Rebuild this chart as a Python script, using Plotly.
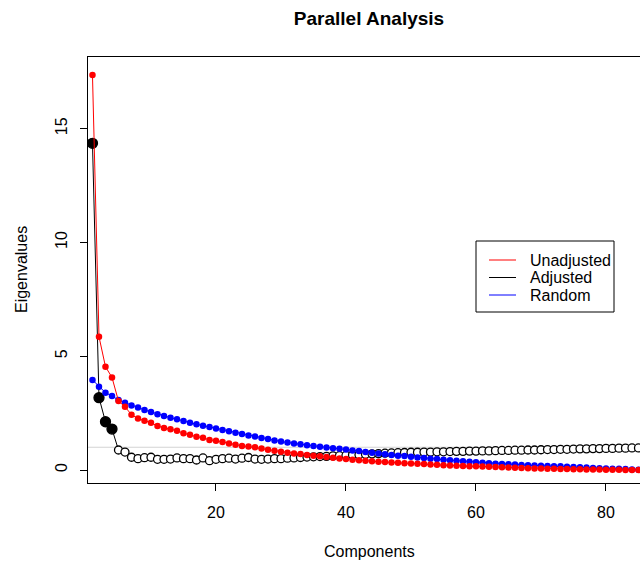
import plotly.graph_objects as go

components = list(range(1, 86))

unadjusted = [
    17.36, 5.86, 4.54, 4.07, 3.03, 2.78, 2.43, 2.26, 2.17, 2.08,
    1.93, 1.85, 1.79, 1.73, 1.61, 1.55, 1.46, 1.42, 1.32, 1.29,
    1.23, 1.17, 1.11, 1.06, 1.03, 1.00, 0.94, 0.89, 0.85, 0.80,
    0.76, 0.73, 0.70, 0.66, 0.63, 0.60, 0.57, 0.54, 0.51, 0.48,
    0.45, 0.43, 0.41, 0.38, 0.36, 0.35, 0.33, 0.32, 0.30, 0.29,
    0.27, 0.26, 0.24, 0.23, 0.21, 0.20, 0.19, 0.18, 0.17, 0.16,
    0.15, 0.14, 0.13, 0.12, 0.11, 0.10, 0.09, 0.08, 0.07, 0.065,
    0.06, 0.05, 0.045, 0.04, 0.035, 0.03, 0.025, 0.02, 0.02, 0.015,
    0.01, 0.01, 0.005, 0.003, 0.0,
]

random_ev = [
    3.96, 3.66, 3.40, 3.25, 3.08, 2.96, 2.84, 2.75, 2.64, 2.55,
    2.45, 2.37, 2.30, 2.23, 2.15, 2.08, 2.01, 1.95, 1.89, 1.82,
    1.76, 1.70, 1.64, 1.58, 1.52, 1.47, 1.41, 1.36, 1.30, 1.25,
    1.21, 1.17, 1.13, 1.09, 1.05, 1.02, 0.99, 0.96, 0.93, 0.90,
    0.86, 0.83, 0.79, 0.76, 0.72, 0.69, 0.66, 0.63, 0.61, 0.58,
    0.55, 0.53, 0.50, 0.48, 0.45, 0.43, 0.41, 0.38, 0.36, 0.34,
    0.32, 0.30, 0.28, 0.26, 0.25, 0.24, 0.22, 0.21, 0.20, 0.19,
    0.18, 0.17, 0.16, 0.14, 0.13, 0.12, 0.11, 0.09, 0.08, 0.07,
    0.06, 0.05, 0.04, 0.02, 0.01,
]

adjusted = [
    14.36, 3.18, 2.12, 1.80, 0.88, 0.79, 0.56, 0.50, 0.54, 0.56,
    0.47, 0.47, 0.48, 0.53, 0.50, 0.50, 0.44, 0.53, 0.41, 0.47,
    0.50, 0.52, 0.48, 0.52, 0.55, 0.48, 0.47, 0.48, 0.50, 0.50,
    0.52, 0.53, 0.55, 0.57, 0.58, 0.59, 0.60, 0.62, 0.63, 0.64,
    0.66, 0.67, 0.69, 0.71, 0.72, 0.74, 0.75, 0.76, 0.77, 0.78,
    0.78, 0.79, 0.79, 0.80, 0.80, 0.81, 0.82, 0.82, 0.83, 0.83,
    0.84, 0.84, 0.85, 0.86, 0.86, 0.87, 0.87, 0.88, 0.88, 0.89,
    0.90, 0.90, 0.91, 0.91, 0.92, 0.93, 0.93, 0.94, 0.94, 0.95,
    0.95, 0.96, 0.96, 0.97, 0.97,
]

retained = 4
x_ticks = [20, 40, 60, 80]
y_ticks = [0, 5, 10, 15]
legend_labels = ["Unadjusted", "Adjusted", "Random"]
legend_colors = ["red", "black", "blue"]

W, H = 640, 563
L, R, T, B = 88, 0, 57, 80
PW = W - L - R
PH = H - T - B


def px_x(p):
    return (p - L) / PW


def px_y(p):
    return (H - B - p) / PH


FONT = "Liberation Sans, Arial, Helvetica, sans-serif"

fig = go.Figure()

adj_colors = ["#000000" if i < retained else "#ffffff" for i in range(len(adjusted))]
adj_sizes = [10 if i < retained else 8 for i in range(len(adjusted))]

fig.add_trace(go.Scatter(
    x=components, y=adjusted, mode="lines+markers", name="Adjusted",
    line=dict(color="black", width=1),
    marker=dict(color=adj_colors, size=adj_sizes, symbol="circle", opacity=1,
                line=dict(color="#000000", width=1.3)),
    showlegend=False,
))
fig.add_trace(go.Scatter(
    x=components, y=random_ev, mode="lines+markers", name="Random",
    line=dict(color="blue", width=1),
    marker=dict(color="blue", size=6.5, line=dict(width=0)),
    showlegend=False,
))
fig.add_trace(go.Scatter(
    x=components, y=unadjusted, mode="lines+markers", name="Unadjusted",
    line=dict(color="red", width=1),
    marker=dict(color="red", size=6.5, line=dict(width=0)),
    showlegend=False,
))

shapes = [
    dict(type="line", xref="paper", yref="y", x0=0, x1=1, y0=1, y1=1,
         line=dict(color="#d3d3d3", width=1), layer="below"),
    dict(type="rect", xref="paper", yref="paper",
         x0=px_x(476), x1=px_x(614), y0=px_y(312), y1=px_y(241),
         line=dict(color="black", width=1), fillcolor="white", layer="above"),
]
annotations = []
rows = [260, 277.5, 295]
for lab, col, ry in zip(legend_labels, legend_colors, rows):
    shapes.append(dict(type="line", xref="paper", yref="paper",
                       x0=px_x(489), x1=px_x(516), y0=px_y(ry), y1=px_y(ry),
                       line=dict(color=col, width=1), layer="above"))
    annotations.append(dict(text=lab, xref="paper", yref="paper",
                            x=px_x(528), y=px_y(ry), xanchor="left", yanchor="middle",
                            showarrow=False, font=dict(size=16, color="black", family=FONT)))

annotations.append(dict(text="Components", xref="paper", yref="paper",
                        x=px_x(369), y=px_y(551), xanchor="center", yanchor="middle",
                        showarrow=False, font=dict(size=16, color="black", family=FONT)))
annotations.append(dict(text="Eigenvalues", xref="paper", yref="paper",
                        x=px_x(21), y=px_y(270), xanchor="center", yanchor="middle",
                        textangle=-90,
                        showarrow=False, font=dict(size=16, color="black", family=FONT)))

fig.update_layout(
    width=W, height=H,
    margin=dict(l=L, r=R, t=T, b=B, pad=0),
    paper_bgcolor="white", plot_bgcolor="white",
    font=dict(family=FONT, size=16, color="black"),
    title=dict(text="<b>Parallel Analysis</b>", x=369 / W, xanchor="center",
               y=1 - 18 / H, yanchor="middle", yref="container",
               font=dict(size=19, family=FONT, color="black")),
    showlegend=False,
    shapes=shapes,
    annotations=annotations,
)

fig.update_xaxes(
    range=[0.31, 0.31 + PW / 6.5], tickvals=x_ticks, ticktext=[str(v) for v in x_ticks],
    showgrid=False, zeroline=False, showline=True, linecolor="black", linewidth=1,
    mirror=True, ticks="outside", ticklen=7, tickcolor="black", tickwidth=1,
    ticklabelstandoff=8,
)
fig.update_yaxes(
    range=[-13 / 22.75, -13 / 22.75 + PH / 22.75], tickvals=y_ticks,
    ticktext=[str(v) for v in y_ticks], tickangle=-90,
    showgrid=False, zeroline=False, showline=True, linecolor="black", linewidth=1,
    mirror=False, ticks="outside", ticklen=7, tickcolor="black", tickwidth=1,
    ticklabelstandoff=7,
)

fig.write_html("out.html")
